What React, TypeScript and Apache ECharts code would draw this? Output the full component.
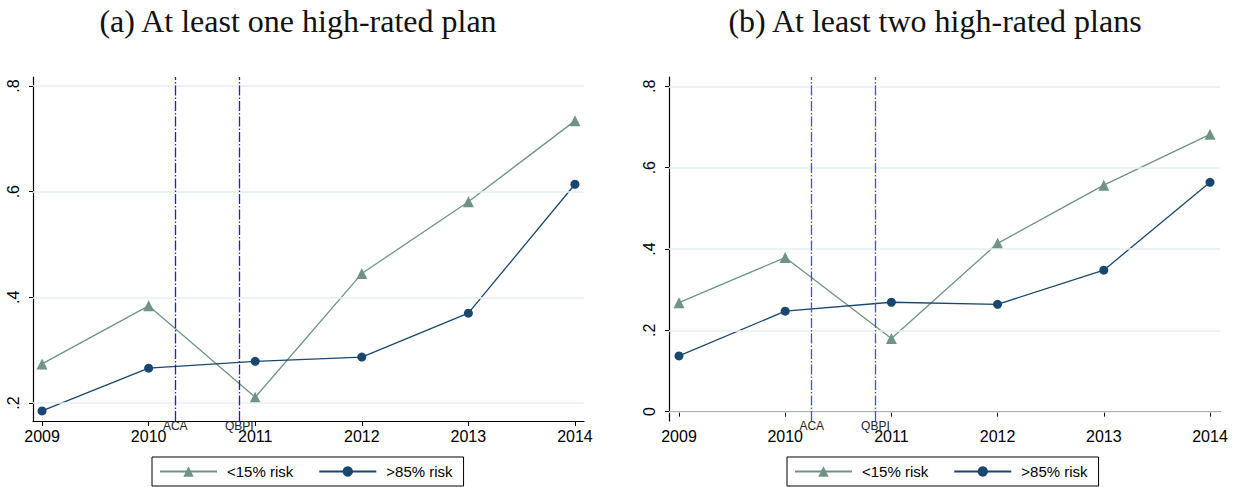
import React, { useEffect, useRef } from "react";
import * as echarts from "echarts";

const years = [2009, 2010, 2011, 2012, 2013, 2014];
const lowRiskA = [0.274, 0.384, 0.211, 0.445, 0.581, 0.734];
const highRiskA = [0.185, 0.266, 0.279, 0.287, 0.370, 0.614];
const lowRiskB = [0.268, 0.379, 0.180, 0.414, 0.557, 0.682];
const highRiskB = [0.137, 0.247, 0.269, 0.264, 0.348, 0.564];
const yTicksA = [0.2, 0.4, 0.6, 0.8];
const yTicksB = [0, 0.2, 0.4, 0.6, 0.8];
const events = [
  { name: "ACA", x: 2010.25 },
  { name: "QBPI", x: 2010.85 },
];
const titles = ["(a) At least one high-rated plan", "(b) At least two high-rated plans"];
const seriesNames = ["<15% risk", ">85% risk"];

const GREEN = "#6f9483";
const NAVY = "#1a476f";

function fmtTick(v: number): string {
  if (v === 0) return "0";
  return String(Math.round(v * 10) / 10).replace(/^0/, "");
}

export default function App() {
  const ref = useRef<HTMLDivElement>(null);
  useEffect(() => {
    if (!ref.current) return;
    const chart = echarts.init(ref.current, undefined, { renderer: "svg" });

    const panels = [
      { left: 33, low: lowRiskA, high: highRiskA, ticks: yTicksA, ymin: 0.166, ymax: 0.817, xmin: 2008.915, xmax: 2014.085, vcolor: "#1f1fd6", titleX: 293, legendLeft: 152 },
      { left: 669, low: lowRiskB, high: highRiskB, ticks: yTicksB, ymin: -0.023, ymax: 0.823, xmin: 2008.906, xmax: 2014.094, vcolor: "#4848ff", titleX: 930, legendLeft: 787 },
    ];

    const grid: any[] = [];
    const xAxis: any[] = [];
    const yAxis: any[] = [];
    const series: any[] = [];
    const title: any[] = [];
    const legend: any[] = [];

    panels.forEach((p, i) => {
      grid.push({ left: p.left, top: 77, width: 551, height: 344 });
      title.push({
        text: titles[i],
        left: p.titleX,
        top: 0,
        textAlign: "center",
        textStyle: { fontFamily: "Liberation Serif", fontSize: 32, fontWeight: "normal", color: "#111" },
      });
      xAxis.push({
        type: "value",
        gridIndex: i,
        min: p.xmin,
        max: p.xmax,
        axisLine: { show: true, lineStyle: { color: "#000", width: 1.2 } },
        axisTick: { show: true, length: 5, customValues: years, lineStyle: { color: "#000" } },
        axisLabel: {
          customValues: years,
          formatter: (v: number) => String(Math.round(v)),
          fontFamily: "Liberation Sans",
          fontSize: 16,
          lineHeight: 12,
          color: "#000",
          margin: 9,
        },
        splitLine: { show: false },
      });
      yAxis.push({
        type: "value",
        gridIndex: i,
        min: p.ymin,
        max: p.ymax,
        axisLine: { show: true, lineStyle: { color: "#000", width: 1.2 } },
        axisTick: { show: true, length: 4, customValues: p.ticks, lineStyle: { color: "#000" } },
        axisLabel: {
          customValues: p.ticks,
          formatter: (v: number) => fmtTick(v),
          rotate: 90,
          fontFamily: "Liberation Sans",
          fontSize: 16,
          color: "#000",
          margin: 12,
        },
        splitLine: { show: false },
      });
      // gridlines and event lines
      series.push({
        type: "line",
        xAxisIndex: i,
        yAxisIndex: i,
        data: [],
        silent: true,
        markLine: {
          silent: true,
          symbol: "none",
          animation: false,
          data: [
            ...p.ticks.map((t) => [
              { coord: [p.xmin, t], lineStyle: { color: "#e6eff1", width: 1.6, type: "solid" }, label: { show: false } },
              { coord: [p.xmax, t] },
            ]),
            ...events.map((e) => [
              {
                coord: [e.x, p.ymin],
                lineStyle: { color: p.vcolor, width: 1.3, type: [10, 2, 1.5, 2] },
                label: {
                  show: true,
                  position: "start",
                  formatter: e.name,
                  distance: 1,
                  fontFamily: "Liberation Sans",
                  fontSize: 12,
                  lineHeight: 8,
                  color: "#222",
                },
              },
              { coord: [e.x, p.ymax] },
            ]),
          ],
        },
      });
      series.push({
        type: "line",
        name: seriesNames[0],
        xAxisIndex: i,
        yAxisIndex: i,
        data: years.map((y, k) => [y, p.low[k]]),
        symbol: "triangle",
        symbolSize: 11,
        itemStyle: { color: GREEN },
        lineStyle: { color: GREEN, width: 1.3 },
      });
      series.push({
        type: "line",
        name: seriesNames[1],
        xAxisIndex: i,
        yAxisIndex: i,
        data: years.map((y, k) => [y, p.high[k]]),
        symbol: "circle",
        symbolSize: 9,
        itemStyle: { color: NAVY },
        lineStyle: { color: NAVY, width: 1.3 },
      });
      legend.push({
        left: p.legendLeft,
        top: 457,
        data: seriesNames,
        selectedMode: false,
        orient: "horizontal",
        borderColor: "#000",
        borderWidth: 1,
        padding: [7, 11, 7, 7],
        itemWidth: 57,
        itemHeight: 13,
        itemGap: 25,
        textStyle: { fontFamily: "Liberation Sans", fontSize: 15, color: "#000", padding: [0, 0, 0, 5] },
      });
    });

    chart.setOption({
      animation: false,
      backgroundColor: "#fff",
      title,
      grid,
      xAxis,
      yAxis,
      series,
      legend,
    });
    return () => chart.dispose();
  }, []);
  return <div ref={ref} style={{ position: "absolute", left: 0, top: 0, width: 1237, height: 487 }} />;
}
